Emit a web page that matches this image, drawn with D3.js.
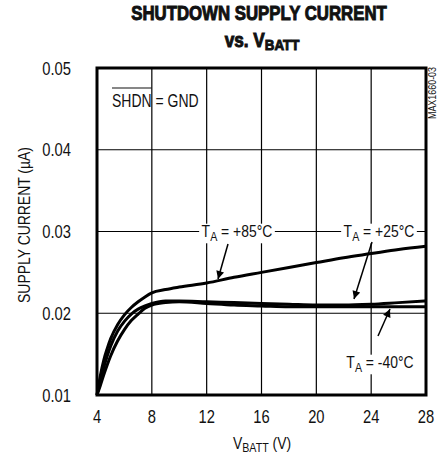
<!DOCTYPE html>
<html><head><meta charset="utf-8">
<script src="https://cdn.jsdelivr.net/npm/d3@7"></script>
<style>
body{margin:0;background:#fff;}
text{font-family:"Liberation Sans Narrow","Liberation Sans",Arial,sans-serif;fill:#111;}
</style></head>
<body><svg id="c" width="444" height="461"></svg>
<script>
const vbatt = [4, 4.25, 4.5, 4.75, 5, 5.5, 6, 6.5, 7, 7.5, 8, 9, 10, 12, 14, 16, 18, 20, 22, 24, 26, 28];
const t85  = [0.0100, 0.0124, 0.0143, 0.0157, 0.0169, 0.0186, 0.0198, 0.0207, 0.0214, 0.0220, 0.0225, 0.0229, 0.0232, 0.0237, 0.0244, 0.0250, 0.0256, 0.0262, 0.0268, 0.0273, 0.0278, 0.0282];
const t25  = [0.0100, 0.0118, 0.0134, 0.0148, 0.0160, 0.0178, 0.0190, 0.0199, 0.0205, 0.0209, 0.0212, 0.0215, 0.0215, 0.0214, 0.0213, 0.0212, 0.0211, 0.0210, 0.0210, 0.0211, 0.0213, 0.0215];
const tm40 = [0.0100, 0.0112, 0.0125, 0.0137, 0.0148, 0.0166, 0.0180, 0.0191, 0.0199, 0.0206, 0.0210, 0.0213, 0.0214, 0.0212, 0.0210, 0.0209, 0.0208, 0.0208, 0.0208, 0.0208, 0.0208, 0.0208];
const xTicks = [4, 8, 12, 16, 20, 24, 28];
const yTicks = [0.01, 0.02, 0.03, 0.04, 0.05];

const svg = d3.select("#c");
const L = 97, R = 426, T = 68, B = 395;
const SX = 0.82;
const x = d3.scaleLinear().domain([4, 28]).range([L, R]);
const y = d3.scaleLinear().domain([0.01, 0.05]).range([B, T]);

svg.append("defs").append("marker").attr("id","ah").attr("viewBox","0 0 10 10")
  .attr("refX",10).attr("refY",5).attr("markerWidth",13).attr("markerHeight",8)
  .attr("markerUnits","userSpaceOnUse").attr("orient","auto")
  .append("path").attr("d","M0,0 L10,5 L0,10 Z").attr("fill","#000");

// grid
svg.append("g").selectAll("line").data(xTicks.slice(1,-1)).join("line")
  .attr("x1",d=>x(d)).attr("x2",d=>x(d)).attr("y1",T).attr("y2",B)
  .attr("stroke","#000").attr("stroke-width",1.2);
svg.append("g").selectAll("line").data(yTicks.slice(1,-1)).join("line")
  .attr("x1",L).attr("x2",R).attr("y1",d=>y(d)).attr("y2",d=>y(d))
  .attr("stroke","#000").attr("stroke-width",1.2);

// helper: condensed text group
function ctext(px, py, opts){
  const g = svg.append("g").attr("transform",`translate(${px},${py}) ${opts.rot?`rotate(${opts.rot})`:""} scale(${opts.sx||SX},1)`);
  const t = g.append("text").attr("x",0).attr("y",0).attr("text-anchor",opts.anchor||"middle")
    .attr("font-size",opts.size||17);
  if(opts.bold) t.attr("font-weight","bold").attr("stroke","#111").attr("stroke-width",1);
  return {g,t};
}

// tick labels (from scales)
xTicks.forEach(d=>{ ctext(x(d), 423, {size:18}).t.text(d3.format("d")(d)); });
yTicks.forEach(d=>{ ctext(71, y(d)+6.5, {size:18, anchor:"end"}).t.text(d3.format(".2f")(d)); });

// T_A labels with white background
function lbl(cx, cy, rest){
  const {g,t} = ctext(cx, cy, {size:17});
  t.append("tspan").text("T");
  t.append("tspan").attr("font-size",13).attr("dy",4).text("A");
  t.append("tspan").attr("dy",-4).text(rest);
  const bb = t.node().getBBox();
  g.insert("rect", () => t.node()).attr("x",bb.x-3).attr("y",bb.y+2).attr("width",bb.width+6).attr("height",bb.height-3).attr("fill","#fff");
}
lbl(237, 237, " = +85°C");
lbl(379, 237, " = +25°C");
lbl(380, 368, " = -40°C");

// curves
const line = d3.line().x(d=>x(d[0])).y(d=>y(d[1])).curve(d3.curveMonotoneX);
[t85, t25, tm40].forEach(s=>{
  svg.append("path").datum(vbatt.map((v,i)=>[v,s[i]])).attr("d",line)
    .attr("fill","none").attr("stroke","#000").attr("stroke-width",3);
});

// arrows
function arrow(x1,y1,x2,y2){
  svg.append("line").attr("x1",x1).attr("y1",y1).attr("x2",x2).attr("y2",y2)
    .attr("stroke","#000").attr("stroke-width",1.5).attr("marker-end","url(#ah)");
}
arrow(228,244,218,279);
arrow(372,242,354,299);
arrow(378,336,390,309);

// frame
svg.append("rect").attr("x",L).attr("y",T).attr("width",R-L).attr("height",B-T)
  .attr("fill","none").attr("stroke","#000").attr("stroke-width",3);

// SHDN = GND
{
  const {g,t} = ctext(112, 107, {size:17.5, anchor:"start", sx:0.8});
  t.append("tspan").attr("class","ov").text("SHDN");
  t.append("tspan").text(" = GND");
  const w = t.select(".ov").node().getComputedTextLength();
  g.append("line").attr("x1",0).attr("x2",w).attr("y1",-19).attr("y2",-19).attr("stroke","#111").attr("stroke-width",1.2);
}

// MAX1660-03
ctext(436, 93, {size:10.5, rot:-90, sx:1}).t.text("MAX1660-03").attr("transform","scale(0.85,1)");

// titles
ctext(259, 20, {size:20, bold:true, sx:0.84}).t.text("SHUTDOWN SUPPLY CURRENT");
{
  const {t} = ctext(262, 47, {size:20, bold:true, sx:0.86});
  t.append("tspan").text("vs. V");
  t.append("tspan").attr("font-size",15.5).attr("dy",3).text("BATT");
}

// x title
{
  const {t} = ctext(262, 449, {size:17});
  t.append("tspan").text("V");
  t.append("tspan").attr("font-size",13).attr("dy",3).text("BATT");
  t.append("tspan").attr("dy",-3).text(" (V)");
}

// y title
ctext(30, 225, {size:17, rot:-90}).t.text("SUPPLY CURRENT (µA)");
</script></body></html>
